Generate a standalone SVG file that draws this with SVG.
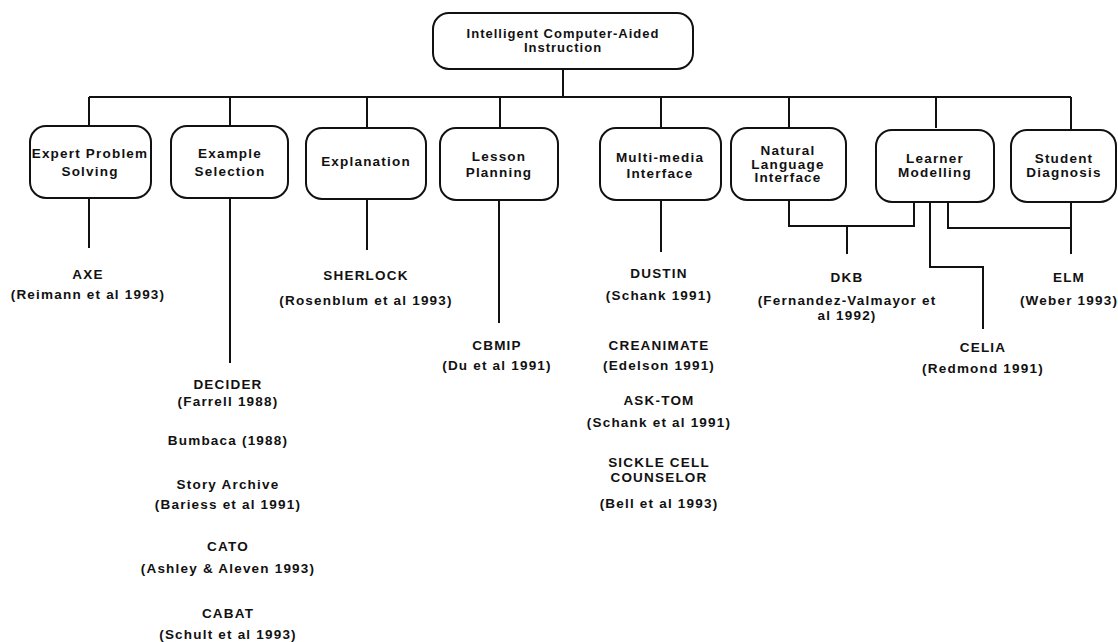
<svg xmlns="http://www.w3.org/2000/svg" width="1118" height="642" viewBox="0 0 1118 642">
<style>
.box{fill:#fff;stroke:#111;stroke-width:2}
.ln{fill:none;stroke:#111;stroke-width:2}
text{font-family:"Liberation Sans",Arial,sans-serif;font-weight:bold;font-size:13.5px;letter-spacing:1.2px;fill:#111;text-anchor:middle}
.top{font-size:13px;letter-spacing:1px}
</style>
<rect width="1118" height="642" fill="#fff"/>
<g id="connectors">
<path class="ln" d="M563 69V97M89 97H1071M89 97V126M230 97V126M367 97V128M500 97V128M661 97V128M789 97V128M936 97V128M1071 97V130"/>
<path class="ln" d="M89 198V248M230 198V363M367 199V250M499 200V323M661 200V252"/>
<path class="ln" d="M789 200V226H914V202M847 226V254"/>
<path class="ln" d="M930 202V267H983V329"/>
<path class="ln" d="M948 202V228H1071V202M1071 228V254"/>
</g>
<g id="n-root"><rect class="box" x="433" y="13" width="260" height="56" rx="16"/><text class="top" x="563" y="38">Intelligent Computer-Aided</text><text class="top" x="563" y="52">Instruction</text></g>
<g id="n-expert"><rect class="box" x="30" y="126" width="121" height="72" rx="16"/><text x="90" y="158">Expert Problem</text><text x="90" y="176">Solving</text></g>
<g id="n-example"><rect class="box" x="171" y="126" width="117" height="72" rx="16"/><text x="230" y="158">Example</text><text x="230" y="176">Selection</text></g>
<g id="n-explanation"><rect class="box" x="306" y="128" width="120" height="71" rx="16"/><text x="366" y="166">Explanation</text></g>
<g id="n-lesson"><rect class="box" x="440" y="128" width="118" height="72" rx="16"/><text x="499" y="161">Lesson</text><text x="499" y="177">Planning</text></g>
<g id="n-multimedia"><rect class="box" x="600" y="128" width="121" height="72" rx="16"/><text x="660" y="162">Multi-media</text><text x="660" y="178">Interface</text></g>
<g id="n-natural"><rect class="box" x="731" y="128" width="115" height="72" rx="16"/><text x="788" y="155">Natural</text><text x="788" y="169">Language</text><text x="788" y="182">Interface</text></g>
<g id="n-learner"><rect class="box" x="876" y="130" width="118" height="72" rx="16"/><text x="935" y="163">Learner</text><text x="935" y="177">Modelling</text></g>
<g id="n-student"><rect class="box" x="1011" y="130" width="105" height="72" rx="16"/><text x="1064" y="163">Student</text><text x="1064" y="177">Diagnosis</text></g>
<g id="n-axe"><text x="88" y="279">AXE</text><text x="88" y="299">(Reimann et al 1993)</text></g>
<g id="n-sherlock"><text x="366" y="280">SHERLOCK</text><text x="366" y="305">(Rosenblum et al 1993)</text></g>
<g id="n-cbmip"><text x="497" y="350">CBMIP</text><text x="497" y="370">(Du et al 1991)</text></g>
<g id="n-decider"><text x="228" y="389">DECIDER</text><text x="228" y="406">(Farrell 1988)</text></g>
<g id="n-bumbaca"><text x="228" y="445">Bumbaca (1988)</text></g>
<g id="n-story"><text x="228" y="489">Story Archive</text><text x="228" y="509">(Bariess et al 1991)</text></g>
<g id="n-cato"><text x="228" y="551">CATO</text><text x="228" y="573">(Ashley &amp; Aleven 1993)</text></g>
<g id="n-cabat"><text x="228" y="618">CABAT</text><text x="228" y="639">(Schult et al 1993)</text></g>
<g id="n-dustin"><text x="659" y="278">DUSTIN</text><text x="659" y="300">(Schank 1991)</text></g>
<g id="n-creanimate"><text x="659" y="350">CREANIMATE</text><text x="659" y="370">(Edelson 1991)</text></g>
<g id="n-asktom"><text x="659" y="405">ASK-TOM</text><text x="659" y="427">(Schank et al 1991)</text></g>
<g id="n-sickle"><text x="659" y="467">SICKLE CELL</text><text x="659" y="482">COUNSELOR</text><text x="659" y="508">(Bell et al 1993)</text></g>
<g id="n-dkb"><text x="847" y="282">DKB</text><text x="847" y="305">(Fernandez-Valmayor et</text><text x="847" y="320">al 1992)</text></g>
<g id="n-elm"><text x="1069" y="282">ELM</text><text x="1069" y="305">(Weber 1993)</text></g>
<g id="n-celia"><text x="983" y="352">CELIA</text><text x="983" y="373">(Redmond 1991)</text></g>
</svg>
